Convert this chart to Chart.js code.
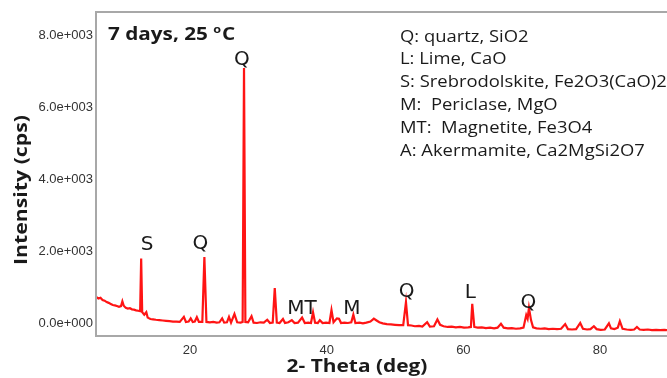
<!DOCTYPE html>
<html>
<head>
<meta charset="utf-8">
<script src="https://cdn.jsdelivr.net/npm/chart.js@4.4.1/dist/chart.umd.min.js"></script>
<style>
  html, body { margin: 0; padding: 0; background: #fff; overflow: hidden; }
  #wrap { width: 667px; height: 378px; }
</style>
</head>
<body>
<div id="wrap"><canvas id="xrdChart" width="667" height="378"></canvas></div>
<script>
const twoTheta = [
  6.3, 6.6, 6.9, 7.2, 7.5, 7.8, 8.1, 8.4, 8.7, 9.0, 9.3, 9.6, 9.9, 10.1, 10.3, 10.6, 10.9, 11.2, 11.5, 11.8,
  12.1, 12.4, 12.7, 12.85, 13.0, 13.3, 13.6, 13.8, 14.2, 14.6, 15.0, 15.5, 16.0, 16.5, 17.0, 17.5, 18.0, 18.5,
  19.1, 19.4, 19.8, 20.1, 20.4, 20.7, 21.0, 21.3, 21.8, 22.1, 22.4, 22.9, 23.4, 23.9, 24.3, 24.7, 25.0, 25.4,
  25.7, 26.0, 26.5, 26.9, 27.4, 27.7, 27.9, 28.1, 28.5, 29.0, 29.3, 29.8, 30.3, 30.8, 31.3, 31.7, 32.1, 32.4,
  32.7, 33.1, 33.6, 33.9, 34.4, 34.9, 35.3, 35.8, 36.4, 36.8, 37.3, 37.7, 38.0, 38.3, 38.7, 39.0, 39.4, 39.9,
  40.4, 40.7, 41.0, 41.5, 41.8, 42.1, 42.6, 43.1, 43.6, 43.9, 44.2, 44.8, 45.3, 45.8, 46.4, 46.9, 47.3, 47.7,
  48.2, 48.8, 49.4, 50.0, 50.6, 51.2, 51.6, 51.9, 52.4, 52.9, 53.5, 54.0, 54.7, 55.1, 55.7, 56.2, 56.6, 57.1,
  57.7, 58.3, 58.9, 59.5, 60.1, 60.7, 61.1, 61.3, 61.6, 62.1, 62.7, 63.3, 63.9, 64.5, 65.0, 65.5, 65.9, 66.5,
  67.1, 67.7, 68.3, 68.8, 69.2, 69.4, 69.6, 69.9, 70.2, 70.7, 71.3, 71.9, 72.5, 73.1, 73.7, 74.3, 74.9, 75.3,
  75.9, 76.5, 77.1, 77.5, 78.1, 78.6, 79.1, 79.5, 80.1, 80.7, 81.3, 81.6, 82.1, 82.6, 82.9, 83.3, 83.9, 84.5,
  85.0, 85.4, 85.8, 86.4, 87.0, 87.6, 88.2, 88.8, 89.4, 89.8
];
const intensity = [
  720, 680, 700, 640, 620, 580, 560, 530, 500, 490, 470, 450, 470, 600, 480, 420, 400, 410, 380, 370,
  350, 340, 330, 1790, 300, 230, 300, 150, 110, 100, 90, 80, 70, 60, 50, 40, 40, 30,
  170, 30, 40, 130, 30, 40, 160, 30, 30, 1830, 30, 20, 30, 10, 20, 130, 10, 20,
  170, 10, 250, 20, 10, 30, 7080, 30, 20, 190, 10, 0, 20, 10, 90, 0, 10, 970,
  10, 0, 110, 0, 20, 80, 0, 10, 150, 0, 10, 0, 300, 10, 0, 80, 0, 10,
  0, 360, 20, 130, 120, 0, 10, 0, 20, 230, 0, 10, -10, 10, 40, 120, 70, 20,
  -10, -30, -40, -50, -60, -60, 580, -60, -70, -90, -80, -100, 20, -100, -90, 100, -50, -90,
  -110, -100, -120, -110, -130, -120, -110, 530, -110, -130, -120, -140, -130, -150, -130, -20, -130, -150,
  -140, -160, -150, -130, 220, 120, 420, 80, -120, -150, -160, -150, -170, -160, -170, -160, -30, -170,
  -180, -170, 0, -160, -180, -170, -90, -170, -190, -180, -10, -150, -170, -130, 50, -160, -180, -190,
  -180, -110, -180, -190, -180, -200, -190, -200, -190, -200
];

// --- ejes ---
const xTicks = [20, 40, 60, 80];
const yTicks = [0, 2000, 4000, 6000, 8000];
const yTickLabels = ["0.0e+000", "2.0e+003", "4.0e+003", "6.0e+003", "8.0e+003"];

// --- etiquetas de fases sobre los picos ---
const peakNames = ["S", "Q", "Q", "MT", "M", "Q", "L", "Q"];
const peakLabelX = [13.7, 21.5, 27.6, 36.4, 43.7, 51.7, 61.0, 69.5];
const peakLabelY = [2170, 2200, 7300, 390, 390, 860, 840, 560];

// --- leyenda de fases ---
const phaseLegend = [
  "Q: quartz, SiO2",
  "L: Lime, CaO",
  "S: Srebrodolskite, Fe2O3(CaO)2",
  "M:  Periclase, MgO",
  "MT:  Magnetite, Fe3O4",
  "A: Akermamite, Ca2MgSi2O7"
];

const xrdPoints = twoTheta.map((t, i) => ({ x: t, y: intensity[i] }));

// texto ensanchado horizontalmente (la figura original está estirada)
function stretchedText(ctx, text, x, y, sx) {
  ctx.save();
  ctx.translate(x, y);
  ctx.scale(sx, 1);
  ctx.fillText(text, 0, 0);
  ctx.restore();
  return ctx.measureText(text).width * sx;
}

// marco gris + textos
const annotationPlugin = {
  id: "xrdAnnotations",
  afterDraw(chart) {
    const ctx = chart.ctx;
    const area = chart.chartArea;
    const xs = chart.scales.x;
    const ys = chart.scales.y;

    ctx.save();
    ctx.strokeStyle = "#a8a8a8";
    ctx.lineWidth = 2;
    ctx.beginPath();
    ctx.moveTo(chart.width, area.top);
    ctx.lineTo(area.left, area.top);
    ctx.lineTo(area.left, area.bottom);
    ctx.lineTo(chart.width, area.bottom);
    ctx.stroke();

    // etiquetas de picos
    ctx.fillStyle = "#1a1a1a";
    ctx.font = "20px 'DejaVu Sans'";
    ctx.textAlign = "center";
    ctx.textBaseline = "middle";
    peakNames.forEach((name, i) => {
      ctx.fillText(name, xs.getPixelForValue(peakLabelX[i]), ys.getPixelForValue(peakLabelY[i]));
    });

    // leyenda
    ctx.textAlign = "left";
    ctx.font = "16px 'Open Sans'";
    phaseLegend.forEach((line, i) => {
      stretchedText(ctx, line, 400, 37 + i * 22.8, 1.15);
    });

    // condición de curado
    ctx.font = "bold 18px 'Open Sans'";
    let x = 108;
    x += stretchedText(ctx, "7 days, 25 ", x, 35, 1.15);
    ctx.font = "bold 11px 'Open Sans'";
    x += stretchedText(ctx, "o", x, 30, 1.15) + 1;
    ctx.font = "bold 18px 'Open Sans'";
    stretchedText(ctx, "C", x, 35, 1.15);

    // títulos de ejes
    ctx.font = "bold 18px 'Open Sans'";
    ctx.textAlign = "center";
    stretchedText(ctx, "2- Theta (deg)", 357, 367, 1.16);
    ctx.save();
    ctx.translate(22, 190);
    ctx.rotate(-Math.PI / 2);
    stretchedText(ctx, "Intensity (cps)", 0, 0, 1.18);
    ctx.restore();
    ctx.restore();
  }
};

const tickFont = { family: "'Liberation Sans', Arial, sans-serif", size: 13 };

const ctx = document.getElementById("xrdChart").getContext("2d");
new Chart(ctx, {
  type: "line",
  data: {
    datasets: [{
      data: xrdPoints,
      borderColor: "#ff1414",
      borderWidth: 2.2,
      pointRadius: 0,
      tension: 0,
      fill: false
    }]
  },
  options: {
    responsive: false,
    animation: false,
    devicePixelRatio: 1,
    layout: { padding: { top: 12, left: 0, right: 0, bottom: 0 } },
    plugins: { legend: { display: false }, tooltip: { enabled: false } },
    scales: {
      x: {
        type: "linear",
        min: 6.24,
        max: 89.8,
        afterBuildTicks: axis => { axis.ticks = xTicks.map(v => ({ value: v })); },
        afterFit: axis => { axis.height = 42; },
        grid: { display: false, drawTicks: false },
        border: { display: false },
        ticks: { padding: 7, color: "#333", font: tickFont, maxRotation: 0 }
      },
      y: {
        min: -361,
        max: 8639,
        afterBuildTicks: axis => { axis.ticks = yTicks.map(v => ({ value: v })); },
        afterFit: axis => { axis.width = 96; },
        grid: { display: false, drawTicks: false },
        border: { display: false },
        ticks: {
          padding: 3,
          color: "#333",
          font: tickFont,
          callback: value => yTickLabels[yTicks.indexOf(value)]
        }
      }
    }
  },
  plugins: [annotationPlugin]
});
</script>
</body>
</html>
